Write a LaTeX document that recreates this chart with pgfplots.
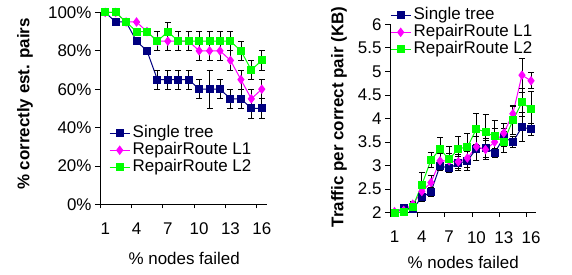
\documentclass[border=0pt]{standalone}
\usepackage{fontspec}
\setmainfont{Liberation Sans}
\usepackage{pgfplots}
\pgfplotsset{compat=1.18}
\definecolor{navy}{RGB}{0,0,128}
\definecolor{pinkm}{RGB}{255,0,255}
\definecolor{lgreen}{RGB}{0,255,0}

\pgfplotsset{
 common/.style={
  scale only axis, clip=false,
  axis lines*=left,
  axis line style={black, line width=0.8bp},
  tick align=outside,
  xmin=0.5, xmax=16.5,
  xtick={1,4,7,10,13,16},
  minor xtick={0.5,3.5,6.5,9.5,12.5,15.5},
  major x tick style={draw=none},
  minor x tick style={black, line width=0.8bp},
  minor tick length=4bp,
  major tick length=5bp,
  y tick style={black, line width=0.8bp},
  xticklabel style={yshift=-10bp},
  font=\fontsize{17}{20}\selectfont,
  /pgf/number format/assume math mode=true,
  xlabel={\% nodes failed},
  legend cell align=left,
  legend style={draw=none, fill=none, font=\fontsize{17}{20}\selectfont, inner sep=0pt,
    column sep=2bp,
    nodes={inner sep=0.5bp, text height=12bp, text depth=4bp}},
  legend image code/.code={\draw[mark repeat=2, mark phase=2] plot coordinates {(0bp,0bp) (10bp,0bp) (20bp,0bp)};},
  error bars/y dir=both, error bars/y explicit,
  error bars/error bar style={black, line width=0.8bp},
  error bars/error mark options={black, mark size=3bp, rotate=90, line width=0.8bp},
 },
 s1/.style={navy, line width=1bp, mark=square*, mark size=3.5bp, mark options={fill=navy}},
 s2/.style={pinkm, line width=1bp, mark=diamond*, mark size=4bp, mark options={fill=pinkm}},
 s3/.style={lgreen, line width=1bp, mark=square*, mark size=3.5bp, mark options={fill=lgreen}},
}

\pgfplotstableread{
x  a   ea  b   eb  c   ec
1  100 0   100 0   100 0
2  95  0   100 0   100 0
3  95  0   95  0   95  0
4  85  0   95  0   90  0
5  80  0   90  0   90  0
6  65  5   85  5   85  5
7  65  5   85  5   90  5
8  65  5   85  5   85  5
9  65  5   85  5   85  5
10 60  5   80  5   85  5
11 60  10  80  5   85  5
12 60  5   80  5   85  5
13 55  5   75  5   85  5
14 55  5   65  5   80  5
15 50  5   55  5   70  5
16 50  5   60  5   75  5
}\lefttab

\pgfplotstableread{
x  a    ea   b    eb   c    ec
1  2.00 0.03 2.02 0.03 2.00 0.03
2  2.10 0.03 2.05 0.03 2.01 0.03
3  2.08 0.05 2.18 0.05 2.13 0.08
4  2.33 0.08 2.45 0.10 2.59 0.27
5  2.44 0.10 2.64 0.15 3.12 0.15
6  3.00 0.10 3.10 0.15 3.35 0.25
7  2.94 0.08 3.10 0.15 3.13 0.28
8  3.05 0.15 3.08 0.15 3.36 0.26
9  3.10 0.20 3.16 0.20 3.39 0.30
10 3.36 0.25 3.40 0.30 3.78 0.32
11 3.37 0.20 3.34 0.20 3.71 0.38
12 3.27 0.10 3.50 0.30 3.62 0.35
13 3.60 0.20 3.69 0.20 3.51 0.22
14 3.50 0.12 4.10 0.18 3.96 0.30
15 3.82 0.30 4.92 0.36 4.34 0.30
16 3.77 0.12 4.80 0.17 4.20 0.38
}\righttab

\begin{document}
\begin{tikzpicture}
\path (0,0) rectangle (572bp,275bp);
\begin{axis}[common,
  at={(100bp,70.6bp)}, anchor=south west,
  width=167bp, height=192bp,
  ymin=0, ymax=100, ytick={0,20,...,100},
  yticklabel={\pgfmathprintnumber{\tick}\%},
  ylabel={\textbf{\% correctly est. pairs}},
  ylabel style={at={(axis description cs:-0.449,0.523)}, anchor=center},
  xlabel style={at={(axis description cs:0.504,-0.284)}, anchor=center},
  legend style={at={(axis description cs:0.054,0.416)}, anchor=north west},
]
\addplot[s1] table[x=x, y=a, y error=ea] {\lefttab};
\addlegendentry{Single tree}
\addplot[s2] table[x=x, y=b, y error=eb] {\lefttab};
\addlegendentry{RepairRoute L1}
\addplot[s3] table[x=x, y=c, y error=ec] {\lefttab};
\addlegendentry{RepairRoute L2}
\end{axis}
\begin{axis}[common,
  at={(390bp,62.3bp)}, anchor=south west,
  width=145.6bp, height=188.4bp,
  ymin=2, ymax=6, ytick={2,2.5,...,6},
  ylabel={\textbf{Traffic per correct pair (KB)}},
  ylabel style={at={(axis description cs:-0.350,0.508)}, anchor=center},
  xlabel style={at={(axis description cs:0.503,-0.262)}, anchor=center},
  legend style={at={(axis description cs:0,1.094)}, anchor=north west},
]
\addplot[s1] table[x=x, y=a, y error=ea] {\righttab};
\addlegendentry{Single tree}
\addplot[s2] table[x=x, y=b, y error=eb] {\righttab};
\addlegendentry{RepairRoute L1}
\addplot[s3] table[x=x, y=c, y error=ec] {\righttab};
\addlegendentry{RepairRoute L2}
\end{axis}
\end{tikzpicture}
\end{document}
